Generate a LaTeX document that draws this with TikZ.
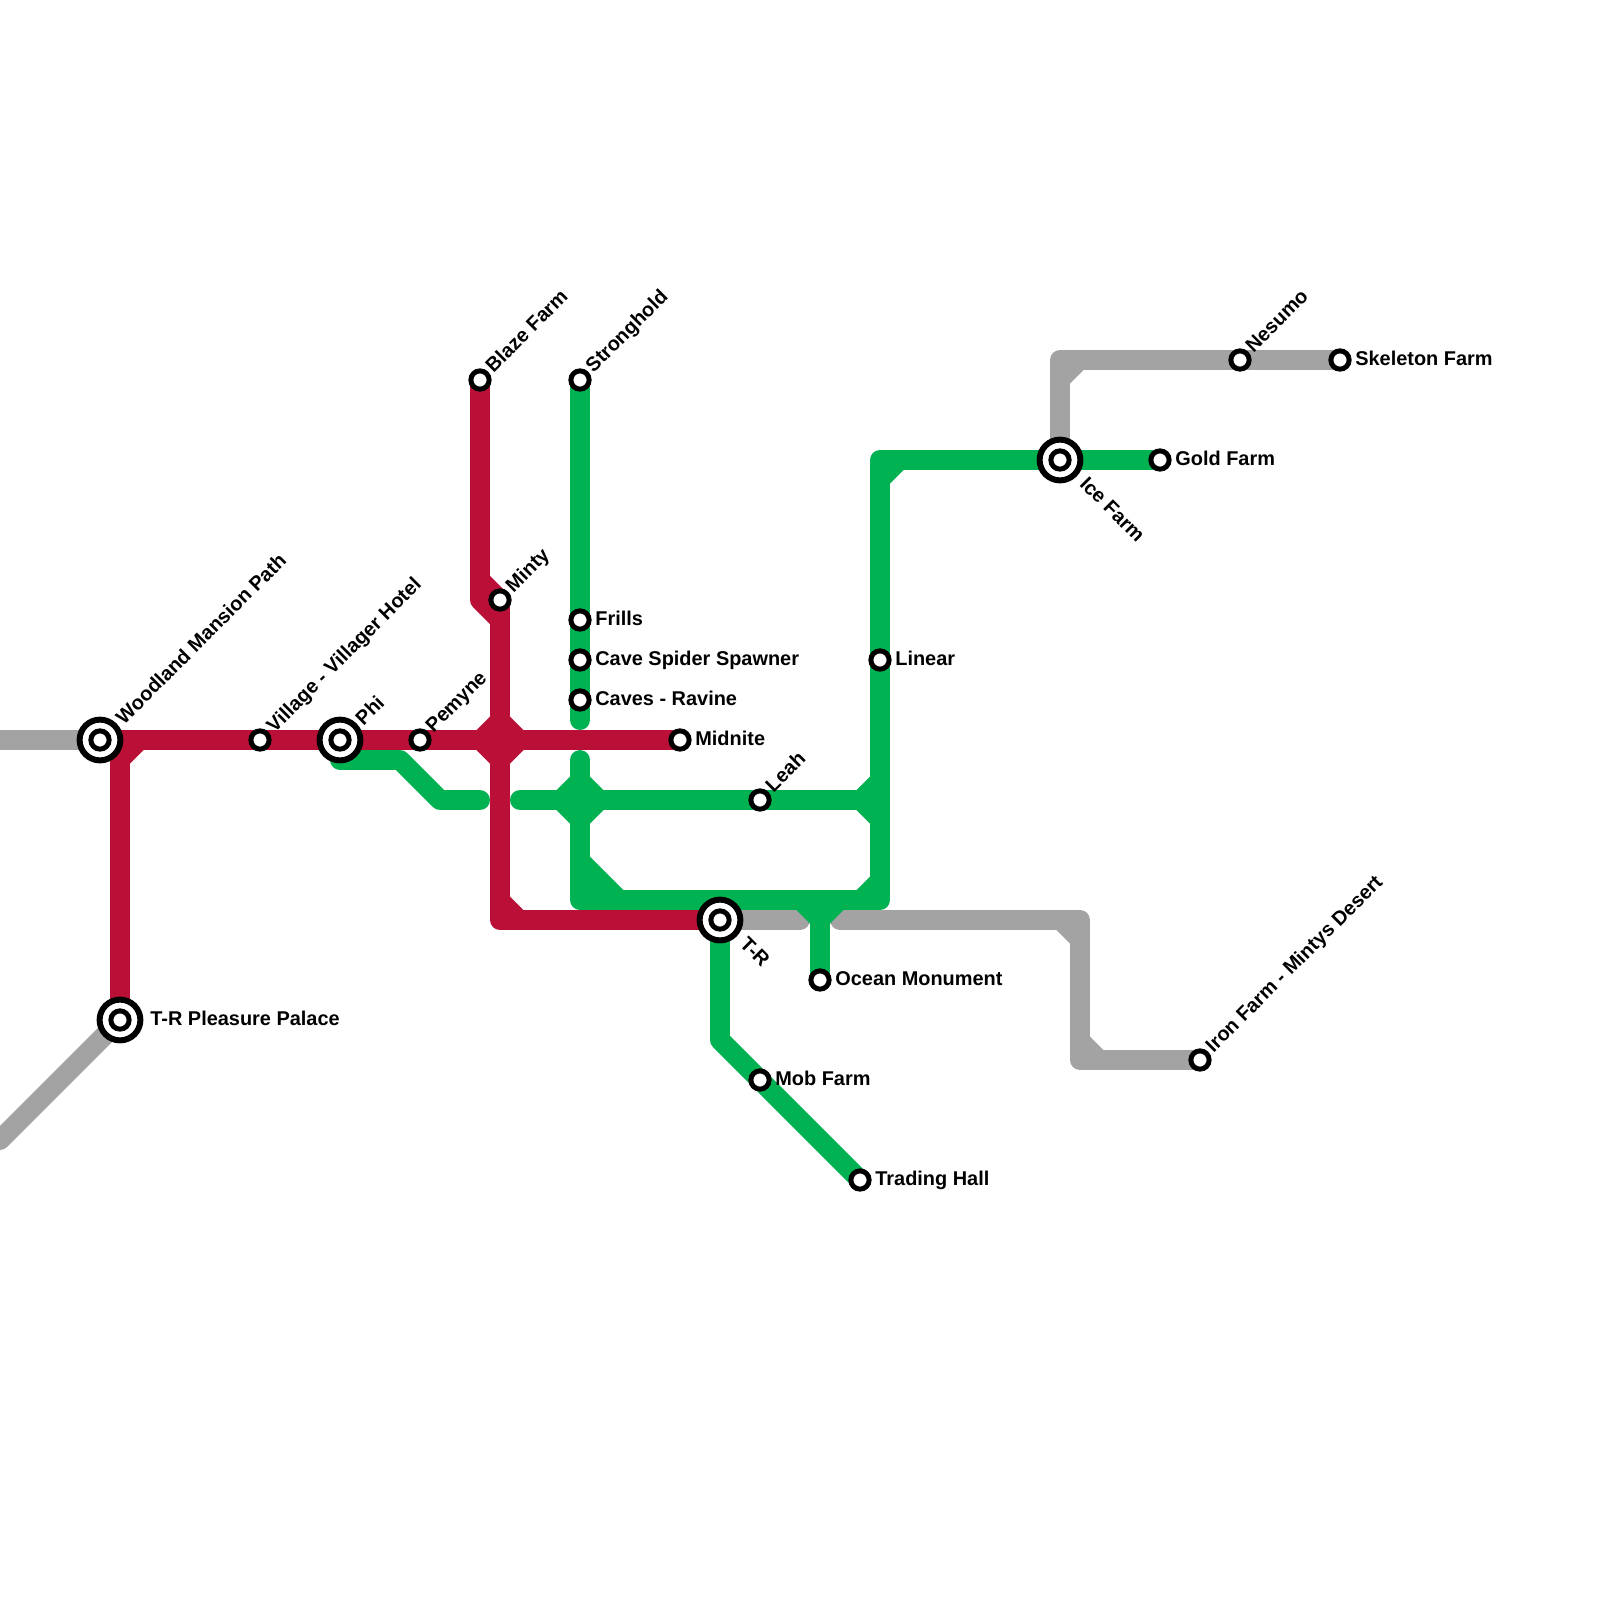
\documentclass[tikz,border=0pt]{standalone}
\usepackage{fontspec}
\setmainfont{Liberation Sans}
\definecolor{mgrey}{HTML}{A3A3A3}
\definecolor{mred}{HTML}{BA1038}
\definecolor{mgreen}{HTML}{00B251}
\tikzset{
  metro/.style={line width=11.34pt,line join=round,line cap=round},
  lgrey/.style={metro,draw=mgrey},
  lred/.style={metro,draw=mred},
  lgreen/.style={metro,draw=mgreen},
  stn/.style={circle,draw=black,fill=white,line width=2.83pt,minimum size=10.4pt,inner sep=0pt,outer sep=0pt},
  bigstn/.style={circle,draw=black,fill=white,line width=3.4pt,minimum size=23.2pt,inner sep=0pt,outer sep=0pt},
  lab/.style={font=\fontsize{11.34pt}{13pt}\selectfont\bfseries,inner sep=0pt,anchor=west,text height=8pt,text depth=2.4pt},
}
% chamfer: inner corner point, size in x and y direction
\newcommand{\chamf}[4]{\fill[#1] (#2) -- ++(#3,0) -- ++(-#3,#4) -- cycle;}
\begin{document}
\begin{tikzpicture}[x=0.02cm,y=-0.02cm]
\useasboundingbox (0,0) rectangle (1600,1600);
% waypoints
\coordinate (woodland) at (100,740);
\coordinate (trpp) at (120,1020);
\coordinate (village) at (260,740);
\coordinate (phi) at (340,740);
\coordinate (pemyne) at (420,740);
\coordinate (blaze) at (480,380);
\coordinate (minty) at (500,600);
\coordinate (stronghold) at (580,380);
\coordinate (frills) at (580,620);
\coordinate (cavespider) at (580,660);
\coordinate (caves) at (580,700);
\coordinate (midnite) at (680,740);
\coordinate (leah) at (760,800);
\coordinate (tr) at (720,920);
\coordinate (linear) at (880,660);
\coordinate (ice) at (1060,460);
\coordinate (gold) at (1160,460);
\coordinate (nesumo) at (1240,360);
\coordinate (skeleton) at (1340,360);
\coordinate (iron) at (1200,1060);
\coordinate (ocean) at (820,980);
\coordinate (mob) at (760,1080);
\coordinate (trading) at (860,1180);
% grey
\draw[lgrey] (-20,740) -- (woodland);
\draw[lgrey] (trpp) -- (0,1140);
\draw[lgrey] (tr) -- (800,920);
\draw[lgrey] (840,920) -- (1080,920) -- (1080,1060) -- (iron);
\draw[lgrey] (ice) -- (1060,360) -- (skeleton);
\chamf{mgrey}{1070,370}{13.5}{13.5}
\chamf{mgrey}{1070,930}{-13.5}{13.5}
\chamf{mgrey}{1090,1050}{13.5}{-13.5}
% green
\draw[lgreen] (phi) -- (340,760) -- (400,760) -- (440,800) -- (480,800);
\draw[lgreen] (stronghold) -- (580,720);
\draw[lgreen] (580,760) -- (580,900) -- (880,900) -- (880,460) -- (gold);
\draw[lgreen] (520,800) -- (880,800);
\draw[lgreen] (820,900) -- (ocean);
\draw[lgreen] (tr) -- (720,1040) -- (trading);
\chamf{mgreen}{570,790}{-13.5}{-13.5}
\chamf{mgreen}{590,790}{13.5}{-13.5}
\chamf{mgreen}{570,810}{-13.5}{13.5}
\chamf{mgreen}{590,810}{13.5}{13.5}
\chamf{mgreen}{590,890}{33.5}{-33.5}
\chamf{mgreen}{870,790}{-13.5}{-13.5}
\chamf{mgreen}{870,810}{-13.5}{13.5}
\chamf{mgreen}{870,890}{-13.5}{-13.5}
\chamf{mgreen}{810,910}{-13.5}{13.5}
\chamf{mgreen}{830,910}{13.5}{13.5}
\chamf{mgreen}{890,470}{13.5}{13.5}
% red
\draw[lred] (woodland) -- (midnite);
\draw[lred] (120,740) -- (trpp);
\draw[lred] (blaze) -- (480,600) -- (500,620) -- (500,920) -- (tr);
\draw[lred] (480,580) -- (minty) -- (500,620);
\chamf{mred}{130,750}{13.5}{13.5}
\chamf{mred}{490,730}{-13.5}{-13.5}
\chamf{mred}{510,730}{13.5}{-13.5}
\chamf{mred}{490,750}{-13.5}{13.5}
\chamf{mred}{510,750}{13.5}{13.5}
\chamf{mred}{510,910}{13.5}{-13.5}
% stations
\foreach \n in {woodland,trpp,phi,tr,ice} {
  \node[bigstn] at (\n) {};
}
\foreach \n in {woodland,trpp,village,phi,pemyne,blaze,minty,stronghold,frills,cavespider,caves,midnite,leah,tr,linear,ice,gold,nesumo,skeleton,iron,ocean,mob,trading} {
  \node[stn] (s-\n) at (\n) {};
}
% labels
\node[lab,rotate=45] (l1) at (120.5,722) {Woodland Mansion Path};
\node[lab,rotate=45] (l2) at (271,730) {Village - Villager Hotel};
\node[lab,rotate=45] (l3) at (360,723) {Phi};
\node[lab,rotate=45] (l4) at (430,730) {Pemyne};
\node[lab,rotate=45] (l5) at (490,370) {Blaze Farm};
\node[lab,rotate=45] (l6) at (510,590) {Minty};
\node[lab,rotate=45] (l7) at (590,370) {Stronghold};
\node[lab,rotate=45] (l8) at (770,790) {Leah};
\node[lab,rotate=45] (l9) at (1250,350) {Nesumo};
\node[lab,rotate=45] (l10) at (1210,1050) {Iron Farm - Mintys Desert};
\node[lab,rotate=-45] (l11) at (742,941.5) {T-R};
\node[lab,rotate=-45] (l12) at (1082,481.5) {Ice Farm};
\node[lab] (l13) at (150,1021) {T-R Pleasure Palace};
\node[lab] (l14) at (595,621) {Frills};
\node[lab] (l15) at (595,661) {Cave Spider Spawner};
\node[lab] (l16) at (595,701) {Caves - Ravine};
\node[lab] (l17) at (695,741) {Midnite};
\node[lab] (l18) at (895,661) {Linear};
\node[lab] (l19) at (1175,461) {Gold Farm};
\node[lab] (l20) at (1355,361) {Skeleton Farm};
\node[lab] (l21) at (835,981) {Ocean Monument};
\node[lab] (l22) at (775,1081) {Mob Farm};
\node[lab] (l23) at (875,1181) {Trading Hall};
\end{tikzpicture}
\end{document}
